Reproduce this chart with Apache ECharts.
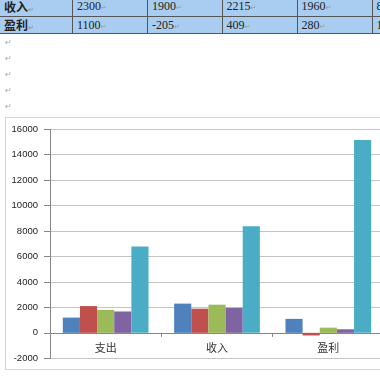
<!DOCTYPE html>
<html>
<head>
<meta charset="utf-8">
<script src="https://cdn.jsdelivr.net/npm/echarts@6/dist/echarts.min.js"></script>
<style>
  html, body { margin: 0; padding: 0; width: 380px; height: 380px; overflow: hidden; background: #fff; }
  #tbl { position: absolute; left: 0; top: 0; width: 460px; height: 34px; }
  .cell { position: absolute; box-sizing: border-box; background: #a9cdf0; border-right: 1px solid #555; border-bottom: 1px solid #555;
          padding-left: 4px; white-space: nowrap; overflow: hidden; font-family: "Liberation Serif", serif; font-size: 12px; color: #222; }
  .cell.h { font-family: "Noto Sans CJK SC", sans-serif; font-weight: bold; font-size: 12px; }
  .pm { color: #999; font-size: 7px; font-family: "DejaVu Sans", sans-serif; }
  .para { position: absolute; left: 5px; color: #aaa; font-size: 8px; font-family: "DejaVu Sans", sans-serif; }
  #box { position: absolute; left: 5px; top: 117px; width: 400px; height: 253px; border: 1px solid #d4d4d4; box-sizing: border-box; }
  #chart { position: absolute; left: 0; top: 117px; width: 400px; height: 263px; }
</style>
</head>
<body>
<div id="tbl"></div>
<div id="paras"></div>
<div id="box"></div>
<div id="chart"></div>
<script>
// Table rows (partially visible in the reference)
var tableRowNames = ['收入', '盈利'];
var tableRowIncome = ['2300', '1900', '2215', '1960', '8375'];
var tableRowProfit = ['1100', '-205', '409', '280', '15150'];

// Chart data
var categories = ['支出', '收入', '盈利'];
var series1 = [1200, 2300, 1100];
var series2 = [2105, 1900, -205];
var series3 = [1806, 2215, 409];
var series4 = [1680, 1960, 280];
var series5 = [6790, 8375, 15150];
var seriesNames = ['系列1', '系列2', '系列3', '系列4', '系列5'];
var yTicks = { min: -2000, max: 16000, interval: 2000 };

// table layout (HTML, not chart marks)
var colX = [0, 73, 148, 222.5, 297.5, 372.5, 450];
var rowY = [-2, 16.5, 33.5];
var rows = [tableRowIncome, tableRowProfit];
var tbl = document.getElementById('tbl');
rows.forEach(function (r, i) {
  var cells = [tableRowNames[i]].concat(r);
  cells.forEach(function (v, j) {
    var d = document.createElement('div');
    d.className = 'cell' + (j === 0 ? ' h' : '');
    d.style.left = colX[j] + 'px';
    d.style.width = (colX[j + 1] - colX[j]) + 'px';
    d.style.top = rowY[i] + 'px';
    d.style.height = (rowY[i + 1] - rowY[i]) + 'px';
    d.style.lineHeight = (rowY[i + 1] - rowY[i] - 1) + 'px';
    d.innerHTML = v + '<span class="pm">↵</span>';
    tbl.appendChild(d);
  });
});
var paraY = [38, 54, 70, 86, 102];
var pd = document.getElementById('paras');
paraY.forEach(function (y) {
  var s = document.createElement('div');
  s.className = 'para';
  s.style.top = y + 'px';
  s.textContent = '↵';
  pd.appendChild(s);
});

var colors = ['#4F81BD', '#C0504D', '#9BBB59', '#8064A2', '#4BACC6'];
var allSeries = [series1, series2, series3, series4, series5];
var chart = echarts.init(document.getElementById('chart'), null, { renderer: 'canvas' });
chart.setOption({
  animation: false,
  grid: { left: 50, top: 12.3, width: 334, height: 229 },
  xAxis: {
    type: 'category',
    data: categories,
    axisLine: { onZero: true, lineStyle: { color: '#868686', width: 1 } },
    axisTick: { show: true, alignWithLabel: false, length: 4, lineStyle: { color: '#868686' } },
    axisLabel: { color: '#333', fontSize: 11, margin: -16, fontFamily: 'Noto Sans CJK SC' }
  },
  yAxis: {
    type: 'value',
    min: yTicks.min, max: yTicks.max, interval: yTicks.interval,
    axisLine: { show: true, lineStyle: { color: '#868686', width: 1 } },
    axisTick: { show: true, length: 6, lineStyle: { color: '#868686' } },
    axisLabel: { color: '#222', fontSize: 9.5, margin: 12, fontFamily: 'Liberation Sans',
                 formatter: function (v) { return String(v); } },
    splitLine: { show: true, lineStyle: { color: '#c4c4c4', width: 1 } }
  },
  series: allSeries.map(function (d, i) {
    return {
      name: seriesNames[i],
      type: 'bar',
      data: d,
      barGap: '0%',
      barCategoryGap: '23%',
      itemStyle: { color: colors[i] }
    };
  })
});
</script>
</body>
</html>
